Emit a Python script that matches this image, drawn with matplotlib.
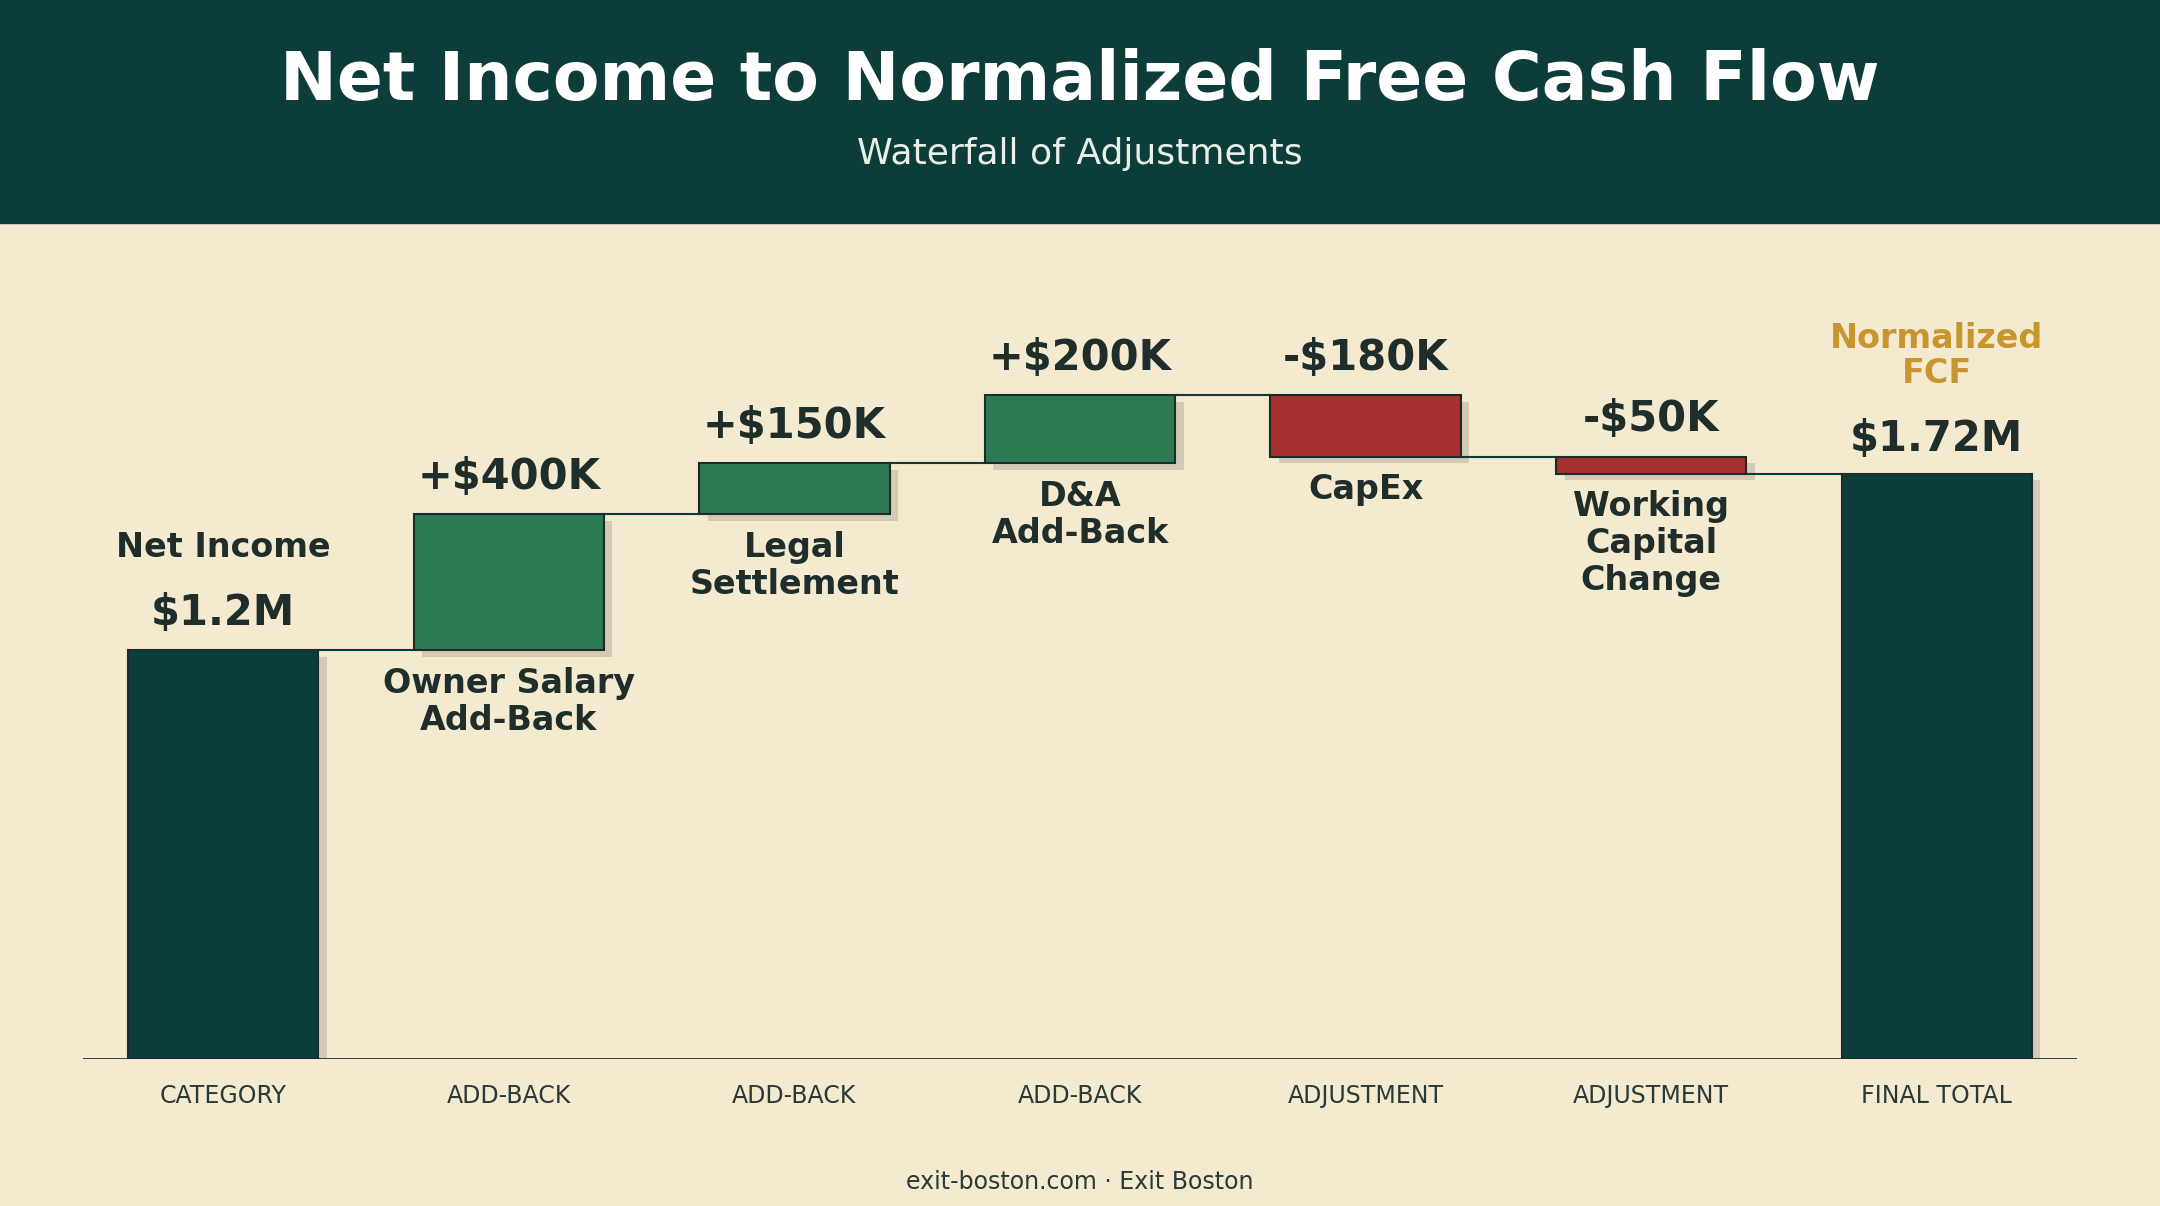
import matplotlib
matplotlib.use("Agg")
import matplotlib.pyplot as plt
from matplotlib.patches import Rectangle

categories = ["Net Income", "Owner Salary\nAdd-Back", "Legal\nSettlement", "D&A\nAdd-Back",
              "CapEx", "Working\nCapital\nChange", "Normalized\nFCF"]
values = [1.2, 0.4, 0.15, 0.2, -0.18, -0.05, 1.72]
value_labels = ["$1.2M", "+$400K", "+$150K", "+$200K", "-$180K", "-$50K", "$1.72M"]
kinds = ["CATEGORY", "ADD-BACK", "ADD-BACK", "ADD-BACK", "ADJUSTMENT", "ADJUSTMENT", "FINAL TOTAL"]

DARK = "#0c3d3a"; GREEN = "#2e7a55"; RED = "#a5302f"; GOLD = "#c9952f"; BG = "#f3ead0"

fig = plt.figure(figsize=(21.6, 12.06), dpi=100)
fig.patch.set_facecolor(BG)
fig.add_artist(Rectangle((0, 0.815), 1, 0.185, transform=fig.transFigure, color=DARK, zorder=0))
fig.text(0.5, 0.933, "Net Income to Normalized Free Cash Flow", ha="center", va="center",
         color="white", fontsize=49, fontweight="bold")
fig.text(0.5, 0.872, "Waterfall of Adjustments", ha="center", va="center", color="#e8efe9", fontsize=26)
fig.text(0.5, 0.02, "exit-boston.com · Exit Boston", ha="center", va="center", color="#2a3a38", fontsize=17)

ax = fig.add_axes([0.0383, 0.1223, 0.9234, 0.684])
ax.set_facecolor("none")
ax.set_xlim(-0.492, 6.492)
ax.set_ylim(0, 2.426)
for s in ax.spines.values():
    s.set_visible(False)
ax.axhline(0, color=DARK, lw=2)
ax.set_yticks([])
ax.set_xticks(range(7))
ax.set_xticklabels(kinds, fontsize=17, color="#2a3a38")
ax.tick_params(axis="x", length=0, pad=18)

w = 0.666
cum = 0.0
tops = []
for i, v in enumerate(values):
    if i == 0 or i == len(values) - 1:
        bottom, height, col = 0, v, DARK
        cum = v
    else:
        bottom = cum if v >= 0 else cum + v
        height = abs(v)
        col = GREEN if v >= 0 else RED
        cum += v
    # shadow
    ax.bar(i + 0.03, height, w, bottom=bottom - 0.02, color="#00000022", zorder=1)
    ax.bar(i, height, w, bottom=bottom, color=col, edgecolor="#1d2b28", lw=1.5, zorder=2)
    top, bot = bottom + height, bottom
    tops.append(cum)
    tkw = dict(ha="center", fontweight="bold", color="#1f2e2b")
    if i == 0:
        ax.annotate(value_labels[i], (i, top), xytext=(0, 12), textcoords="offset points", va="bottom", fontsize=30, **tkw)
        ax.annotate(categories[i], (i, top), xytext=(0, 62), textcoords="offset points", va="bottom", fontsize=24, **tkw)
    elif i == len(values) - 1:
        ax.annotate(value_labels[i], (i, top), xytext=(0, 10), textcoords="offset points", va="bottom", fontsize=30, **tkw)
        ax.annotate(categories[i], (i, top), xytext=(0, 60), textcoords="offset points", va="bottom",
                    fontsize=24, ha="center", fontweight="bold", color=GOLD, linespacing=1.1)
    else:
        ax.annotate(value_labels[i], (i, top), xytext=(0, 12), textcoords="offset points", va="bottom", fontsize=30, **tkw)
        ax.annotate(categories[i], (i, bot), xytext=(0, -12), textcoords="offset points", va="top",
                    fontsize=24, linespacing=1.15, **tkw)
for i in range(len(values) - 1):
    ax.plot([i + w / 2, i + 1 - w / 2], [tops[i], tops[i]], color=DARK, lw=1.5, zorder=1)

fig.savefig("out.png", dpi=100, facecolor=BG)
